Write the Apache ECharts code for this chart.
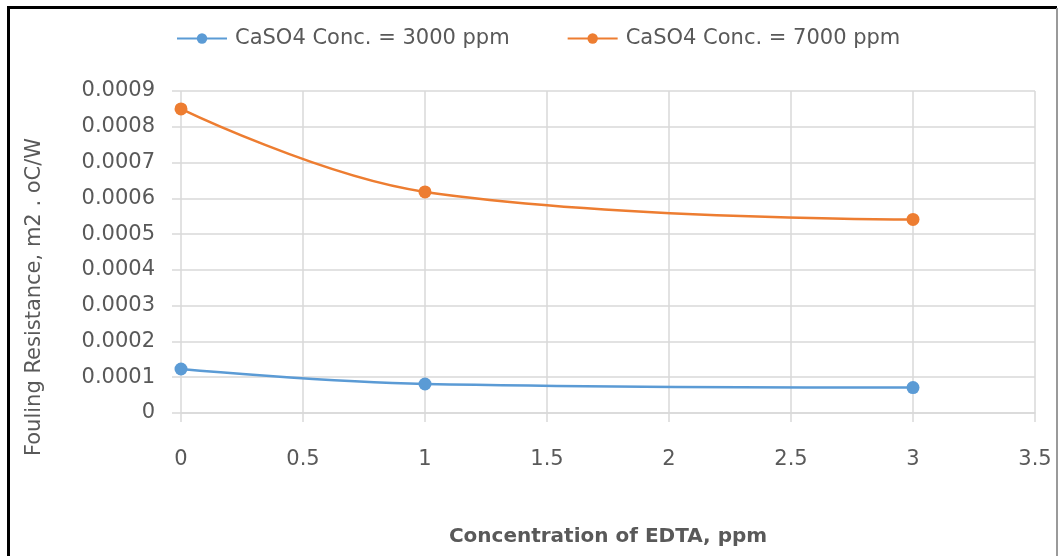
<!DOCTYPE html>
<html>
<head>
<meta charset="utf-8">
<script src="https://cdn.jsdelivr.net/npm/echarts@6/dist/echarts.min.js"></script>
<style>html,body{margin:0;padding:0;background:#fff;}#c{width:1059px;height:556px;}</style>
</head>
<body>
<div id="c"></div>
<script>
var xValues = [0, 1, 3];
var series3000 = [0.000123, 0.000081, 0.000071];
var series7000 = [0.00085, 0.000618, 0.000541];
var seriesNames = ['CaSO4 Conc. = 3000 ppm', 'CaSO4 Conc. = 7000 ppm'];
var xTitle = 'Concentration of EDTA, ppm';
var yTitle = 'Fouling Resistance, m2 . oC/W';

function pairs(xs, ys) { return xs.map(function (x, i) { return [x, ys[i]]; }); }

var font = 'DejaVu Sans';
var txt = '#595959';
var grid = '#d9d9d9';
var chart = echarts.init(document.getElementById('c'));
chart.setOption({
  animation: false,
  backgroundColor: '#fff',
  textStyle: { fontFamily: font },
  legend: {
    top: 23, left: 171, itemGap: 57, itemWidth: 50, itemHeight: 13,
    textStyle: { fontSize: 21, color: txt, fontFamily: font, padding: [0, 0, 0, 3] },
    data: seriesNames
  },
  grid: { left: 181, right: 24, top: 91, bottom: 143 },
  xAxis: {
    type: 'value', min: 0, max: 3.5, interval: 0.5,
    name: xTitle, nameLocation: 'middle', nameGap: 114,
    nameTextStyle: { fontSize: 20, fontWeight: 'bold', color: txt, fontFamily: font },
    axisLine: { show: true, lineStyle: { color: grid, width: 1.5 } },
    axisTick: { show: true, length: 9, lineStyle: { color: grid, width: 1.5 } },
    axisLabel: { fontSize: 21, color: txt, margin: 36, fontFamily: font },
    splitLine: { show: true, lineStyle: { color: grid, width: 1.5 } }
  },
  yAxis: {
    type: 'value', min: 0, max: 0.0009, interval: 0.0001,
    axisLine: { show: false },
    axisTick: { show: true, length: 9, lineStyle: { color: grid, width: 1.5 } },
    axisLabel: { fontSize: 21, color: txt, margin: 26, fontFamily: font,
      formatter: function (v) { return v === 0 ? '0' : v.toFixed(4); } },
    splitLine: { show: true, lineStyle: { color: grid, width: 1.5 } }
  },
  graphic: [
    { type: 'rect', shape: { x: 7, y: 6, width: 1050, height: 3 }, style: { fill: '#000' } },
    { type: 'rect', shape: { x: 7, y: 6, width: 3, height: 560 }, style: { fill: '#000' } },
    { type: 'rect', shape: { x: 1056, y: 8, width: 2, height: 560 }, style: { fill: '#9a9a9a' } },
    { type: 'text', x: 35, y: 297, rotation: Math.PI / 2,
      style: { text: yTitle, fill: txt, font: '21px "DejaVu Sans"', textAlign: 'center', textVerticalAlign: 'middle' } }
  ],
  series: [
    { name: seriesNames[0], type: 'line', smooth: 0.4, data: pairs(xValues, series3000),
      symbol: 'circle', symbolSize: 13, color: '#5b9bd5', lineStyle: { width: 2.5 } },
    { name: seriesNames[1], type: 'line', smooth: 0.4, data: pairs(xValues, series7000),
      symbol: 'circle', symbolSize: 13, color: '#ed7d31', lineStyle: { width: 2.5 } }
  ]
});
</script>
</body>
</html>
